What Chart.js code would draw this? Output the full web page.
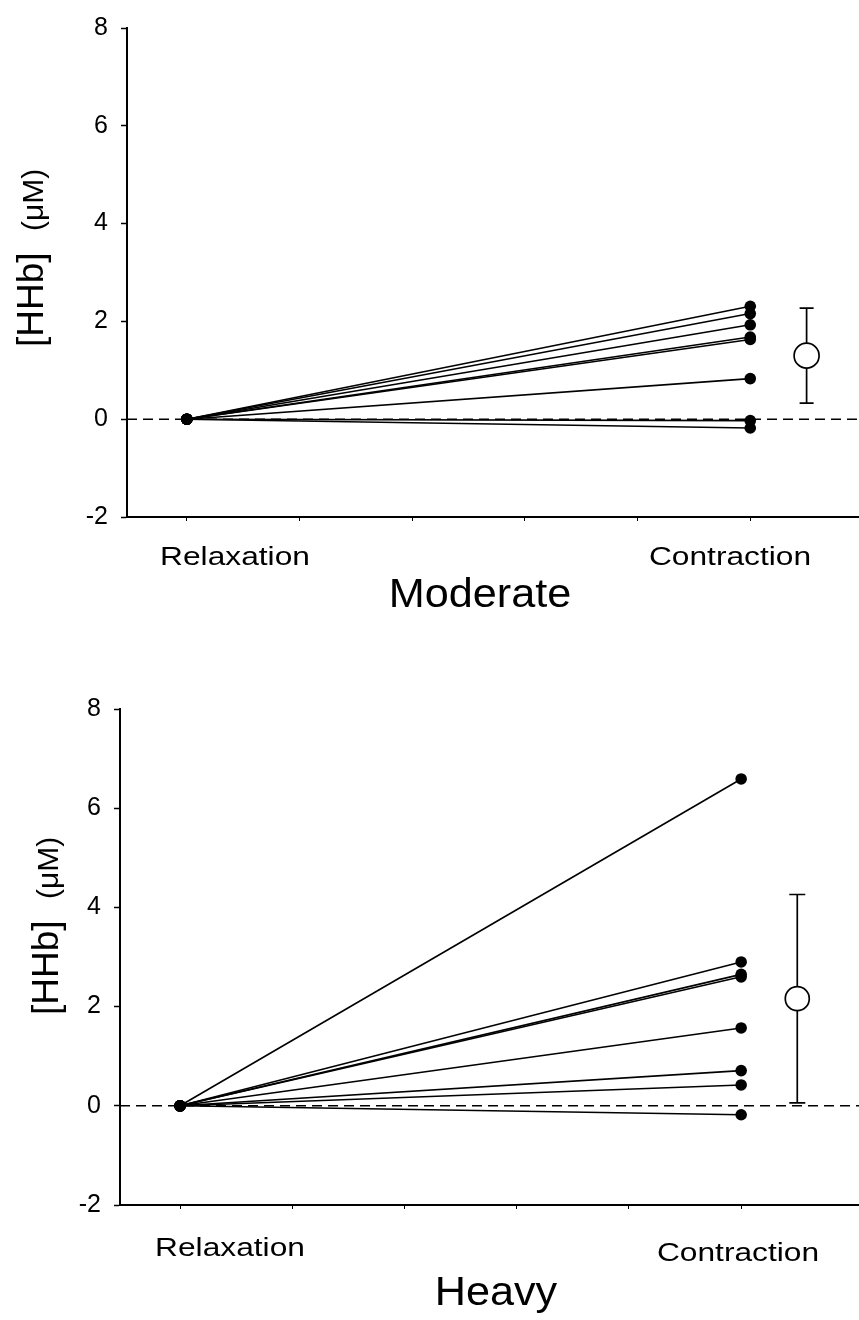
<!DOCTYPE html>
<html>
<head>
<meta charset="utf-8">
<script src="https://cdn.jsdelivr.net/npm/chart.js@4/dist/chart.umd.min.js"></script>
<style>
  html, body { margin: 0; padding: 0; background: #fff; }
  #wrap { position: relative; width: 859px; height: 1320px; overflow: hidden; }
  .panel { position: absolute; left: 0; width: 859px; }
  canvas { display: block; }
</style>
</head>
<body>
<div id="wrap">
  <div class="panel" style="top:0;height:640px"><canvas id="c1" width="859" height="640"></canvas></div>
  <div class="panel" style="top:640px;height:680px"><canvas id="c2" width="859" height="680"></canvas></div>
</div>
<script>
// ---------------- data ----------------
const categories = ['Relaxation', 'Contraction'];
const categoryX = [1, 6];          // x positions of the two conditions
const meanX = 6.5;                 // x position of mean ± SD marker
const panelTitles = ['Moderate', 'Heavy'];
const yTitleMain = '[HHb]';
const yTitleUnit = '(\u03BCM)';
const yTicks = [-2, 0, 2, 4, 6, 8];
const xTickValues = [1, 2, 3, 4, 5, 6];

const moderateRelaxation  = [0, 0, 0, 0, 0, 0, 0, 0];
const moderateContraction = [2.31, 2.16, 1.93, 1.68, 1.63, 0.83, -0.03, -0.18];
const heavyRelaxation     = [0, 0, 0, 0, 0, 0, 0, 0];
const heavyContraction    = [6.59, 2.90, 2.65, 2.60, 1.57, 0.71, 0.42, -0.18];

const meanValues = [1.30, 2.16];   // Moderate, Heavy (contraction mean)
const sdValues   = [0.97, 2.10];

// ---------------- styling / layout ----------------
const FONT = "'Liberation Sans', Arial, Helvetica, sans-serif";

const panels = [
  {
    id: 'c1', h: 640, top: 20, bottom: 517, left: 127,
    xmin: 0.469, xmax: 6.965,
    relax: moderateRelaxation, contr: moderateContraction,
    mean: meanValues[0], sd: sdValues[0], title: panelTitles[0],
    titlePos: [480, 607], labelPos: [[235, 565], [730, 565]],
    yTitleBase: 43, yTitleStart: 347, capHalf: 7, meanR: 12.5
  },
  {
    id: 'c2', h: 680, top: 69, bottom: 565, left: 120,
    xmin: 0.465, xmax: 7.05,
    relax: heavyRelaxation, contr: heavyContraction,
    mean: meanValues[1], sd: sdValues[1], title: panelTitles[1],
    titlePos: [496, 665], labelPos: [[230, 616], [738, 621]],
    yTitleBase: 58, yTitleStart: 375, capHalf: 8, meanR: 12
  }
];

function stretchedText(ctx, text, x, y, font, sx, align) {
  ctx.save();
  ctx.translate(x, y);
  ctx.scale(sx, 1);
  ctx.font = font;
  ctx.fillStyle = '#000';
  ctx.textAlign = align || 'center';
  ctx.textBaseline = 'alphabetic';
  ctx.fillText(text, 0, 0);
  ctx.restore();
}

const decorPlugin = {
  id: 'decor',
  beforeDatasetsDraw(chart) {
    const p = chart.options.plugins.decor;
    const ctx = chart.ctx;
    const xs = chart.scales.x, ys = chart.scales.y;
    // error bar (drawn under the open circle)
    const px = xs.getPixelForValue(meanX);
    const yHi = ys.getPixelForValue(p.mean + p.sd);
    const yLo = ys.getPixelForValue(p.mean - p.sd);
    ctx.save();
    ctx.strokeStyle = '#000';
    ctx.lineWidth = 1.7;
    ctx.beginPath();
    ctx.moveTo(px, yHi); ctx.lineTo(px, yLo);
    ctx.moveTo(px - p.capHalf, yHi); ctx.lineTo(px + p.capHalf, yHi);
    ctx.moveTo(px - p.capHalf, yLo); ctx.lineTo(px + p.capHalf, yLo);
    ctx.stroke();
    ctx.restore();
  },
  afterDraw(chart) {
    const p = chart.options.plugins.decor;
    const ctx = chart.ctx;
    // category labels
    categories.forEach((c, i) => {
      stretchedText(ctx, c, p.labelPos[i][0], p.labelPos[i][1], '26px ' + FONT, 1.22, 'center');
    });
    // panel title
    stretchedText(ctx, p.title, p.titlePos[0], p.titlePos[1], '40px ' + FONT, 1.08, 'center');
    // rotated y title
    ctx.save();
    ctx.translate(p.yTitleBase, p.yTitleStart);
    ctx.rotate(-Math.PI / 2);
    ctx.fillStyle = '#000';
    ctx.textBaseline = 'alphabetic';
    ctx.textAlign = 'left';
    ctx.font = '37px ' + FONT;
    ctx.fillText(yTitleMain, 0, 0);
    ctx.font = '30px ' + FONT;
    ctx.fillText(yTitleUnit, 116, 0);
    ctx.restore();
  }
};

function buildChart(P) {
  const datasets = [];
  // dashed zero reference line
  datasets.push({
    data: [{x: P.xmin, y: 0}, {x: P.xmax, y: 0}],
    borderColor: '#000', borderWidth: 1.5, borderDash: [10, 6],
    pointRadius: 0, showLine: true, order: 10
  });
  P.contr.forEach((v, i) => {
    datasets.push({
      data: [{x: categoryX[0], y: P.relax[i]}, {x: categoryX[1], y: v}],
      borderColor: '#000', borderWidth: 1.6,
      pointRadius: 5.8, pointBackgroundColor: '#000', pointBorderColor: '#000', pointBorderWidth: 0,
      showLine: true, order: 5
    });
  });
  // mean marker
  datasets.push({
    data: [{x: meanX, y: P.mean}],
    pointRadius: P.meanR, pointBackgroundColor: '#fff', pointBorderColor: '#000', pointBorderWidth: 1.7,
    showLine: false, order: 0
  });

  return new Chart(document.getElementById(P.id), {
    type: 'scatter',
    data: { datasets },
    options: {
      responsive: false,
      animation: false,
      events: [],
      clip: false,
      layout: { autoPadding: false, padding: { top: P.top, right: 0, left: 0, bottom: 0 } },
      plugins: {
        legend: { display: false },
        tooltip: { enabled: false },
        decor: {
          mean: P.mean, sd: P.sd, title: P.title, titlePos: P.titlePos, labelPos: P.labelPos,
          yTitleBase: P.yTitleBase, yTitleStart: P.yTitleStart, capHalf: P.capHalf
        }
      },
      scales: {
        x: {
          type: 'linear', min: P.xmin, max: P.xmax,
          afterBuildTicks: s => { s.ticks = xTickValues.map(v => ({ value: v })); },
          afterFit: s => { s.height = P.h - P.bottom; },
          ticks: { display: false },
          grid: { drawOnChartArea: false, color: '#000', tickLength: 4, tickWidth: 1 },
          border: { display: true, color: '#000', width: 2 }
        },
        y: {
          type: 'linear', min: -2, max: 8,
          afterBuildTicks: s => { s.ticks = yTicks.map(v => ({ value: v })); },
          afterFit: s => { s.width = P.left; },
          ticks: { color: '#000', padding: 13, font: { family: FONT, size: 25 } },
          grid: { drawOnChartArea: false, color: '#000', tickLength: 6, tickWidth: 1.5 },
          border: { display: true, color: '#000', width: 2 }
        }
      }
    },
    plugins: [decorPlugin]
  });
}

panels.forEach(buildChart);
</script>
</body>
</html>
